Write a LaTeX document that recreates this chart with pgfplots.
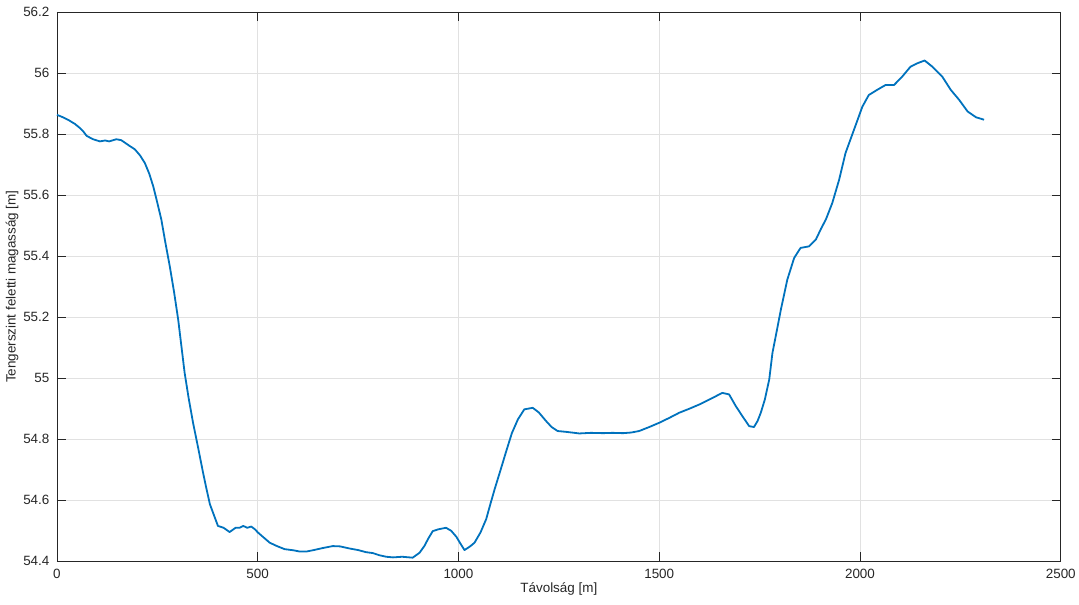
\documentclass[border=0pt]{standalone}
\usepackage{pgfplots}
\pgfplotsset{compat=1.18}
\usepackage{fontspec}
\setmainfont{Liberation Sans}
\definecolor{mblue}{RGB}{0,114,189}
\definecolor{axgray}{RGB}{38,38,38}
\definecolor{gridgray}{RGB}{225,225,225}
\begin{document}
\begin{tikzpicture}
\begin{axis}[
  scale only axis,
  width=1005bp, height=550bp,
  xmin=0, xmax=2500, ymin=54.4, ymax=56.2,
  xtick={0,500,1000,1500,2000,2500},
  ytick={54.4,54.6,54.8,55,55.2,55.4,55.6,55.8,56,56.2},
  yticklabels={54.4,54.6,54.8,55,55.2,55.4,55.6,55.8,56,56.2},
  xticklabels={0,500,1000,1500,2000,2500},
  grid=major,
  major grid style={gridgray, line width=0.6bp},
  axis line style={axgray, line width=0.8bp},
  tick style={axgray, line width=0.8bp},
  major tick length=9bp,
  tick align=inside,
  xtick pos=both, ytick pos=both,
  tick label style={font=\fontsize{13.5}{15}\selectfont, text=axgray},
  xticklabel style={yshift=-4bp},
  yticklabel style={xshift=-4bp},
  /pgf/number format/assume math mode=true,
  xlabel={Távolság [m]},
  ylabel={Tengerszint feletti magasság [m]},
  label style={font=\fontsize{13.5}{15}\selectfont, text=axgray},
  xlabel style={yshift=3bp},
  ylabel style={yshift=-2bp},
  clip=false,
]
\addplot[mblue, line width=1.8bp, line join=round] table {
0 55.863
15 55.855
30 55.845
45 55.833
57 55.82
66 55.808
74 55.794
90 55.783
107 55.776
120 55.779
130 55.776
148 55.783
160 55.78
169 55.772
180 55.762
194 55.75
207 55.73
219 55.705
230 55.67
240 55.628
250 55.575
260 55.52
270 55.445
281 55.367
292 55.28
302 55.192
310 55.105
318 55.018
328 54.935
339 54.854
352 54.77
364 54.69
372 54.64
381 54.587
390 54.555
401 54.516
415 54.51
430 54.496
445 54.51
455 54.51
464 54.516
474 54.51
484 54.514
493 54.505
501 54.494
515 54.478
530 54.461
548 54.45
567 54.44
590 54.436
605 54.432
621 54.432
640 54.437
660 54.443
687 54.45
705 54.449
729 54.442
750 54.437
770 54.43
787 54.427
803 54.42
820 54.415
837 54.413
860 54.415
886 54.412
903 54.428
915 54.45
925 54.475
936 54.499
950 54.505
969 54.51
982 54.5
995 54.48
1005 54.458
1015 54.437
1028 54.448
1040 54.461
1055 54.495
1069 54.538
1080 54.59
1090 54.636
1105 54.7
1119 54.761
1133 54.82
1148 54.865
1164 54.898
1185 54.903
1200 54.888
1218 54.86
1232 54.84
1247 54.827
1270 54.824
1301 54.819
1330 54.821
1360 54.82
1384 54.821
1410 54.82
1430 54.822
1450 54.827
1475 54.84
1500 54.854
1525 54.87
1550 54.887
1575 54.9
1600 54.914
1620 54.927
1641 54.941
1657 54.952
1674 54.947
1691 54.908
1707 54.876
1724 54.843
1736 54.84
1745 54.86
1753 54.887
1763 54.93
1774 54.996
1782 55.083
1792 55.15
1803 55.225
1819 55.323
1836 55.394
1852 55.427
1873 55.432
1890 55.454
1903 55.49
1915 55.52
1931 55.574
1948 55.65
1964 55.738
1985 55.814
2006 55.89
2022 55.928
2043 55.945
2064 55.961
2085 55.961
2105 55.988
2126 56.021
2143 56.032
2161 56.041
2180 56.021
2205 55.988
2226 55.945
2247 55.912
2268 55.874
2289 55.855
2309 55.847
};
\end{axis}
\path (current axis.south west) +(-57bp,-43bp) (current axis.north east) +(17bp,12bp);
\end{tikzpicture}
\end{document}
